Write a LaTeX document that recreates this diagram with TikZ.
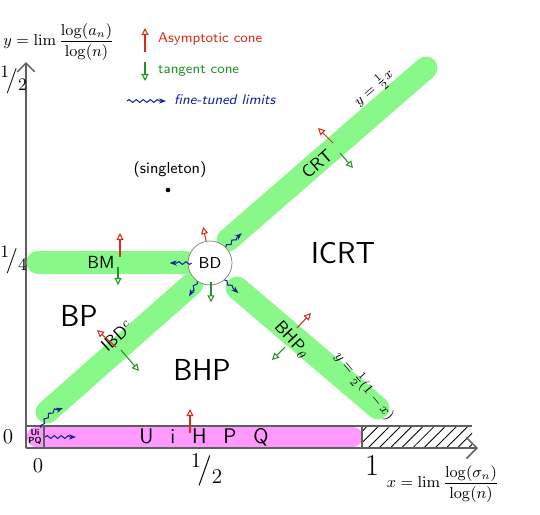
\documentclass[tikz,border=0pt]{standalone}
\usetikzlibrary{arrows.meta,decorations.pathmorphing,patterns.meta}
\definecolor{bandgreen}{RGB}{136,248,136}
\definecolor{stripmag}{RGB}{255,153,255}
\definecolor{conered}{RGB}{215,45,25}
\definecolor{conegreen}{RGB}{30,150,30}
\definecolor{limblue}{RGB}{20,35,150}
\definecolor{axisgray}{RGB}{95,95,95}
\tikzset{
  band/.style={draw=bandgreen, line width=0.46cm, line cap=round},
  axisline/.style={draw=axisgray, line width=0.9pt},
  asym/.style={conered, semithick, -{Triangle[open, length=4pt, width=4pt]}},
  tang/.style={conegreen, semithick, -{Triangle[open, length=4pt, width=4pt]}},
  fine/.style={limblue, semithick, -{Stealth[length=4pt]},
    decorate, decoration={snake, amplitude=0.8pt, segment length=4pt, post length=3pt}},
  region/.style={font=\sffamily\LARGE},
  family/.style={font=\sffamily},
  note/.style={font=\sffamily\footnotesize},
  tick/.style={font=\large},
  fractick/.style={font=\LARGE, inner sep=1pt}
}
\begin{document}
\begin{tikzpicture}[x=0.02cm, y=-0.02cm]
    \useasboundingbox (0,0) rectangle (540,514);
    % Streifen y = 0
    \fill[stripmag, rounded corners=5pt] (27,427) rectangle (362,447);
    \fill[pattern={Lines[angle=45, distance=4.5pt, line width=0.5pt]}] (363,427) rectangle (472,447);
    \draw[axisline] (26,426) -- (472,426);
    \draw[axisline] (362,426) -- (362,448);
    \draw[axisline] (44,426) -- (44,448);
    % Achsen
    \draw[axisline, -{Straight Barb[length=5pt]}] (26,448) -- (26,62);
    \draw[axisline, -{Straight Barb[length=6pt]}] (26,448) -- (478,448);
    % Familien (gruene Baender)
    \draw[band] (38,262) -- (186,262);
    \draw[band] (47,412) -- (192,284);
    \draw[band] (228,240) -- (426,68);
    \draw[band] (237,288) -- (378,408);
    % BD
    \node[circle, draw=gray, fill=white, minimum size=0.88cm, inner sep=0pt, family, font=\sffamily\small] (bd) at (210,263) {BD};
    % Beschriftungen
    \node[family] (bm) at (101,262) {BM};
    \node[family, rotate=42] (ibd) at (117,336) {IBD$^c$};
    \node[family, rotate=41] (crt) at (317,164) {CRT};
    \node[family, rotate=-47] (bhpt) at (292,340) {BHP$_\theta$};
    \node[region] (bp) at (79,316) {BP};
    \node[region] (bhp) at (202,370) {BHP};
    \node[region] (icrt) at (343,253) {ICRT};
    \node[note, font=\sffamily\small] (single) at (170,170) {(singleton)};
    \fill (168,190) circle (1.3pt);
    \node[family, font=\sffamily\large] (uihpq) at (204,437) {U\hspace{0.8em}i\hspace{0.8em}H\hspace{0.8em}P\hspace{0.8em}Q};
    \node[font=\sffamily\bfseries\fontsize{5}{5}\selectfont, align=center, inner sep=0pt] (uipq) at (35,437) {Ui\\PQ};
    \node[note, rotate=41] (eqcrt) at (374,88) {$y=\frac{1}{2}x$};
    \node[note, rotate=-50] (eqbhp) at (364,386) {$y=\frac{1}{2}(1-x)$};
    % Achsenbeschriftungen
    \node[tick] (yzero) at (8,437) {$0$};
    \node[fractick, font=\Large] (yquarter) at (14,260) {$^1\!/_4$};
    \node[fractick, font=\Large] (yhalf) at (14,80) {$^1\!/_2$};
    \node[tick] (xzero) at (38,466) {$0$};
    \node[fractick] (xhalf) at (207,470) {$^1\!/_2$};
    \node[tick, font=\LARGE] (xone) at (372,466) {$1$};
    \node[font=\small] (xlabel) at (443,484) {$x=\lim\displaystyle\frac{\log(\sigma_n)}{\log(n)}$};
    \node[font=\small, anchor=west, inner sep=0pt] (ylabel) at (3,42) {$y=\lim\displaystyle\frac{\log(a_n)}{\log(n)}$};
    % Legende
    \draw[asym] (145,52) -- (145,28);
    \node[note, conered, anchor=west] (lasym) at (152,39) {Asymptotic cone};
    \draw[tang] (145,62) -- (145,81);
    \node[note, conegreen, anchor=west] (ltang) at (152,71) {tangent cone};
    \draw[fine] (127,101) -- (166,101);
    \node[note, limblue, anchor=west, font=\sffamily\itshape\footnotesize] (lfine) at (168,100) {fine-tuned limits};
    % Kegel an BM
    \draw[asym] (120,257) -- (120,233);
    \draw[tang] (118,267) -- (118,285);
    % Kegel an BD
    \draw[asym] (bd.100) -- ++(-3,-14);
    \draw[tang] (bd.south) ++(1,-3) -- ++(0,20);
    \draw[fine] (bd.west) ++(4,0) -- ++(-22,0);
    \draw[fine] (bd.45) -- ++(16,-14);
    \draw[fine] (bd.235) -- ++(-8,15);
    \draw[fine] (bd.310) -- ++(14,13);
    % Kegel an IBD
    \draw[asym] (116,347) -- (97,330);
    \draw[tang] (121,350) -- (139,371);
    % Kegel an CRT
    \draw[asym] (333,143) -- (318,128);
    \draw[tang] (340,153) -- (353,168);
    % Kegel an BHP_theta
    \draw[asym] (297,328) -- (311,313);
    \draw[tang] (285,347) -- (272,360);
    % UiHPQ
    \draw[asym] (190,433) -- (190,409);
    \draw[fine] (45,437) -- (76,437);
    \draw[fine] (41,428) to[bend left=25] (63,408);
\end{tikzpicture}
\end{document}
